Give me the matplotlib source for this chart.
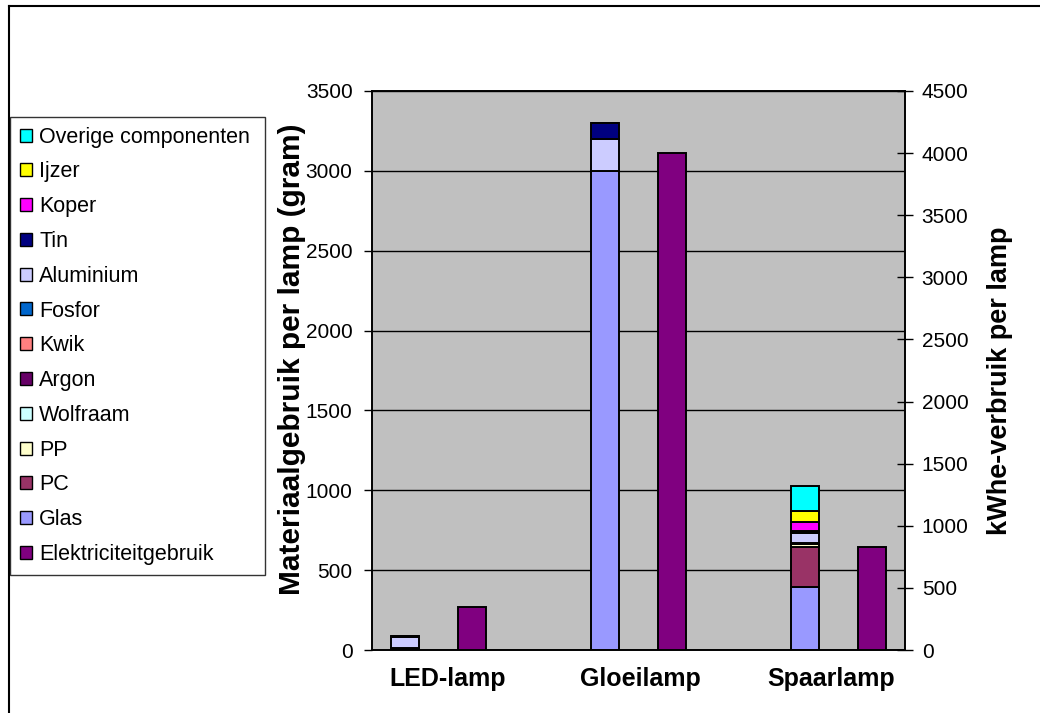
import matplotlib
matplotlib.use("Agg")
import matplotlib.pyplot as plt
from matplotlib.lines import Line2D
from matplotlib.patches import Patch
import numpy as np

plt.rcParams['font.family'] = ['Liberation Sans', 'DejaVu Sans']

# Lamp types on the category axis
lamps = ["LED-lamp", "Gloeilamp", "Spaarlamp"]

# Material use per lamp (gram), stacked from the bottom up
glas      = [0, 3000, 393]
pc        = [15, 0, 255]
pp        = [0, 0, 15]
wolfraam  = [0, 0, 2]
argon     = [0, 0, 1]
kwik      = [0, 0, 1]
fosfor    = [0, 0, 3]
aluminium = [65, 200, 60]
tin       = [10, 100, 15]
koper     = [0, 0, 58]
ijzer     = [0, 0, 67]
overige   = [0, 0, 155]

# Electricity use per lamp (kWhe), secondary axis
elektriciteit = [350, 4000, 830]

materials = [
    ("Glas", glas, "#9999FF"),
    ("PC", pc, "#993366"),
    ("PP", pp, "#FFFFCC"),
    ("Wolfraam", wolfraam, "#CCFFFF"),
    ("Argon", argon, "#660066"),
    ("Kwik", kwik, "#FF8080"),
    ("Fosfor", fosfor, "#0066CC"),
    ("Aluminium", aluminium, "#CCCCFF"),
    ("Tin", tin, "#000080"),
    ("Koper", koper, "#FF00FF"),
    ("Ijzer", ijzer, "#FFFF00"),
    ("Overige componenten", overige, "#00FFFF"),
]
elec_color = "#800080"

W, H = 1040, 713
fig = plt.figure(figsize=(W / 100, H / 100), dpi=100)
fig.patch.set_facecolor("white")

# plot area in pixels
x0, x1, ytop, ybot = 372, 905, 91, 650
ax = fig.add_axes([x0 / W, (H - ybot) / H, (x1 - x0) / W, (ybot - ytop) / H])
ax.set_facecolor("#C0C0C0")

x = np.arange(len(lamps))
bw = 0.14
off = 0.1675

bottom = np.zeros(len(lamps))
for name, vals, col in materials:
    v = np.array(vals, dtype=float)
    ax.bar(x - off, v, bw, bottom=bottom, color=col, edgecolor="black",
           linewidth=1.4, zorder=3)
    bottom += v

ax.set_xlim(-0.33, 2.335)
ax.set_ylim(0, 3500)
ax.set_yticks(np.arange(0, 3501, 500))
ax.yaxis.grid(True, color="black", linewidth=1.0, zorder=1)
ax.set_axisbelow(True)
ax.tick_params(axis="y", direction="out", length=6, width=1, labelsize=15, pad=8)
ax.set_xticks([0.05, 1.01, 1.965])
ax.set_xticklabels(lamps, fontsize=18, fontweight="bold")
ax.tick_params(axis="x", length=0, pad=12)
for s in ax.spines.values():
    s.set_color("black")
    s.set_linewidth(1.2)
ax.set_ylabel("Materiaalgebruik per lamp (gram)", fontsize=21.5, fontweight="bold",
              va="center")
ax.yaxis.set_label_coords((292 - x0) / (x1 - x0), (ybot - 359) / (ybot - ytop))

ax2 = ax.twinx()
ax2.bar(x + off, elektriciteit, bw, color=elec_color, edgecolor="black",
        linewidth=1.4, zorder=3)
ax2.set_ylim(0, 4500)
ax2.set_yticks(np.arange(0, 4501, 500))
ax2.tick_params(axis="y", direction="inout", length=12, width=1, labelsize=15, pad=6)
ax2.set_ylabel("kWhe-verbruik per lamp", fontsize=19.5, fontweight="bold",
               va="center")
ax2.yaxis.set_label_coords((1000 - x0) / (x1 - x0), (ybot - 381) / (ybot - ytop))
for s in ax2.spines.values():
    s.set_color("black")
    s.set_linewidth(1.2)

# legend box at the left
handles = [Patch(facecolor=col, edgecolor="black", linewidth=1.0, label=name)
           for name, vals, col in reversed(materials)]
handles.append(Patch(facecolor=elec_color, edgecolor="black", linewidth=1.0,
                     label="Elektriciteitgebruik"))
leg = fig.legend(handles=handles, loc="upper left",
                 bbox_to_anchor=(10 / W, (H - 570) / H, 255 / W, 453 / H),
                 mode="expand", fontsize=15.5, frameon=True, fancybox=False,
                 edgecolor="black", handlelength=0.55, handleheight=0.55,
                 handletextpad=0.35, labelspacing=0.64, borderpad=0.45,
                 borderaxespad=0)
leg.get_frame().set_linewidth(1.0)

# outer chart border
fig.add_artist(Line2D([8.5 / W, 8.5 / W], [0, (H - 6) / H], color="black",
                      linewidth=1.5, transform=fig.transFigure))
fig.add_artist(Line2D([8.5 / W, 1], [(H - 6) / H, (H - 6) / H], color="black",
                      linewidth=1.5, transform=fig.transFigure))

fig.savefig("out.png", dpi=100)
